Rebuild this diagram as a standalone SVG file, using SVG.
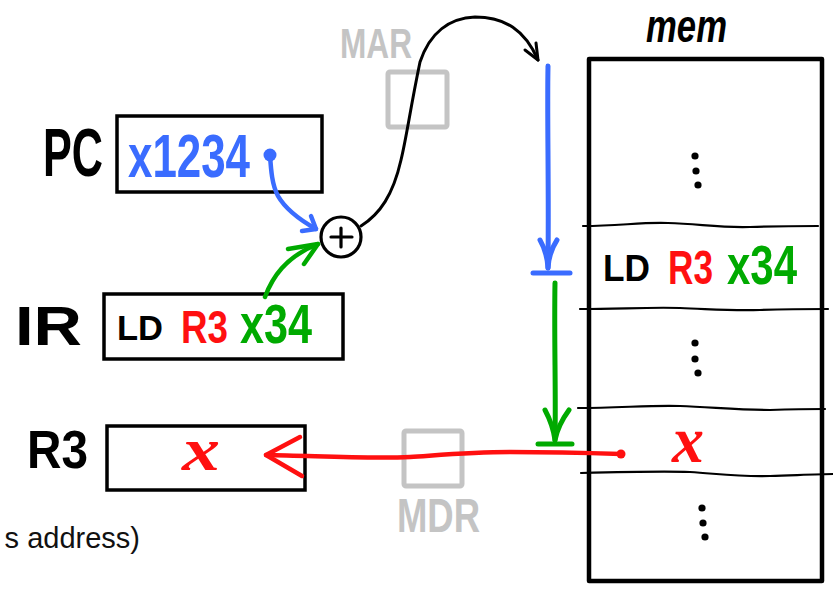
<svg xmlns="http://www.w3.org/2000/svg" width="833" height="593" viewBox="0 0 833 593">
<style>
.hw{font-family:"Liberation Sans","DejaVu Sans",sans-serif;font-weight:bold;}
.blk{fill:#000;}
.blue{fill:#3a6cff;}
.red{fill:#ff1010;}
.grn{fill:#00aa00;}
.gray{fill:#c4c4c4;}
.box{fill:#fff;stroke:#000;stroke-width:3.5;}
.gbox{fill:none;stroke:#c4c4c4;stroke-width:5;stroke-linejoin:round;}
.div{fill:none;stroke:#000;stroke-width:2.2;stroke-linecap:round;}
.ln{fill:none;stroke-linecap:round;stroke-linejoin:round;}
.var{font-family:"Liberation Serif","DejaVu Serif",serif;font-style:italic;font-weight:bold;fill:#ff1010;}
</style>

<g id="caption">
<text x="140" y="548" text-anchor="end" font-family="Liberation Sans, Arial, sans-serif" font-size="29" fill="#111">s address)</text>
</g>

<g id="PC">
<text class="hw blk" x="43" y="176" font-size="68" textLength="60" lengthAdjust="spacingAndGlyphs">PC</text>
<rect class="box" x="117" y="116" width="205" height="76"/>
<text class="hw blue" x="128" y="177" font-size="62" textLength="122" lengthAdjust="spacingAndGlyphs">x1234</text>
</g>

<g id="IR">
<text class="hw blk" x="15" y="345" font-size="56" textLength="67" lengthAdjust="spacingAndGlyphs">IR</text>
<rect class="box" x="104" y="294" width="239" height="65"/>
<text class="hw blk" x="117" y="340" font-size="35" textLength="46" lengthAdjust="spacingAndGlyphs">LD</text>
<text class="hw red" x="181" y="343" font-size="46" textLength="47" lengthAdjust="spacingAndGlyphs">R3</text>
<text class="hw grn" x="240" y="343" font-size="56" textLength="72" lengthAdjust="spacingAndGlyphs">x34</text>
</g>

<g id="R3">
<text class="hw blk" x="27" y="468" font-size="53" textLength="61" lengthAdjust="spacingAndGlyphs">R3</text>
<rect class="box" x="107" y="426" width="198" height="64"/>
<text class="var" x="182" y="470" font-size="62" textLength="38" lengthAdjust="spacingAndGlyphs">x</text>
</g>

<g id="MAR">
<text class="hw gray" x="340" y="58" font-size="43" textLength="72" lengthAdjust="spacingAndGlyphs">MAR</text>
<rect class="gbox" x="388" y="72" width="59" height="55" rx="2"/>
</g>

<g id="MDR">
<text class="hw gray" x="397" y="532" font-size="48" textLength="83" lengthAdjust="spacingAndGlyphs">MDR</text>
<rect class="gbox" x="404" y="431" width="58" height="55" rx="2"/>
</g>

<g id="adder">
<circle cx="341" cy="237" r="20" fill="#fff" stroke="#000" stroke-width="3.2"/>
<path class="ln" d="M331,237 H352 M341,228 V247" stroke="#000" stroke-width="3.2"/>
</g>

<g id="mem">
<text class="hw blk" x="646" y="42" font-size="46" font-style="italic" textLength="81" lengthAdjust="spacingAndGlyphs">mem</text>
<rect x="589" y="59" width="233" height="522" fill="none" stroke="#000" stroke-width="4.5" stroke-linejoin="round"/>
<path class="div" d="M583,226 C620,226 640,222 668,223 C700,224 720,228 750,227 C780,226 800,226 818,226"/>
<path class="div" d="M580,309 C620,309 650,307 680,308 C710,309 730,311 760,310 C790,309 810,309 828,309"/>
<path class="div" d="M578,408 C620,408 650,405 680,406 C710,407 740,410 770,410 C800,409 815,409 825,409"/>
<path class="div" d="M581,473 C620,472 660,471 690,472 C720,474 740,477 770,476 C800,475 820,474 833,474"/>
<g fill="#000">
<circle cx="695" cy="156" r="3.6"/><circle cx="696" cy="171" r="3.6"/><circle cx="698" cy="185" r="3.6"/>
<circle cx="695" cy="343" r="3.6"/><circle cx="695" cy="359" r="3.6"/><circle cx="698" cy="373" r="3.6"/>
<circle cx="702" cy="508" r="3.6"/><circle cx="703" cy="523" r="3.6"/><circle cx="705" cy="537" r="3.6"/>
</g>
<text class="hw blk" x="603" y="281" font-size="36" textLength="47" lengthAdjust="spacingAndGlyphs">LD</text>
<text class="hw red" x="668" y="284" font-size="48" textLength="45" lengthAdjust="spacingAndGlyphs">R3</text>
<text class="hw grn" x="727" y="284" font-size="55" textLength="70" lengthAdjust="spacingAndGlyphs">x34</text>
<text class="var" x="672" y="462" font-size="66" textLength="32" lengthAdjust="spacingAndGlyphs">x</text>
</g>

<g id="connectors">
<!-- PC to adder (blue) -->
<circle cx="270" cy="155" r="6.5" fill="#3a6cff"/>
<path class="ln" d="M270,155 C271,170 272,185 278,196 C286,210 300,220 316,229" stroke="#3a6cff" stroke-width="4.5"/>
<path class="ln" d="M302,231 L316,229 L311,216" stroke="#3a6cff" stroke-width="4.5"/>
<!-- IR to adder (green) -->
<path class="ln" d="M265,297 C272,278 285,257 318,244" stroke="#00aa00" stroke-width="4.5"/>
<path class="ln" d="M288,249 L318,244 L304,264" stroke="#00aa00" stroke-width="4.5"/>
<!-- adder to memory (black) -->
<path class="ln" d="M361,226 C380,214 393,195 401,160 C407,135 410,110 420,62 C430,32 450,18 475,17 C505,17 525,30 538,60" stroke="#000" stroke-width="3"/>
<path class="ln" d="M525,50 L538,60 L536,43" stroke="#000" stroke-width="3"/>
<!-- blue address line -->
<path class="ln" d="M548,66 C547,120 549,180 548,268" stroke="#3a6cff" stroke-width="5"/>
<path class="ln" d="M540,240 Q547,252 548,268 M557,240 Q549,252 548,268" stroke="#3a6cff" stroke-width="5"/>
<path class="ln" d="M533,273 H570" stroke="#3a6cff" stroke-width="5"/>
<!-- green data line -->
<path class="ln" d="M555,283 C554,340 556,390 555,440" stroke="#00aa00" stroke-width="5"/>
<path class="ln" d="M545,410 Q553,425 555,440 M569,410 Q558,425 555,440" stroke="#00aa00" stroke-width="5"/>
<path class="ln" d="M538,444 H572" stroke="#00aa00" stroke-width="5"/>
<!-- red data to R3 -->
<circle cx="621" cy="454" r="4.5" fill="#ff1010"/>
<path class="ln" d="M621,454 C590,453 550,452 510,452 C470,452 440,455 410,457 C370,459 320,456 266,455" stroke="#ff1010" stroke-width="4.5"/>
<path class="ln" d="M300,437 L266,455 L302,476" stroke="#ff1010" stroke-width="4.5"/>
</g>
</svg>
